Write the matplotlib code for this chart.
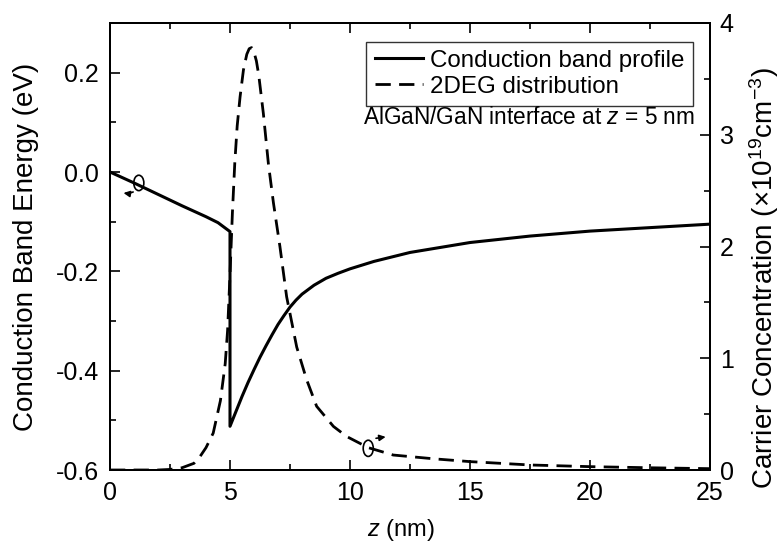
import matplotlib
matplotlib.use("Agg")
import matplotlib.pyplot as plt
from matplotlib.patches import Ellipse, FancyArrowPatch
from matplotlib.ticker import MultipleLocator

plt.rcParams['font.family'] = ['Liberation Sans', 'DejaVu Sans']
plt.rcParams['mathtext.fontset'] = 'custom'
plt.rcParams['mathtext.rm'] = 'Liberation Sans'
plt.rcParams['mathtext.it'] = 'Liberation Sans:italic'
plt.rcParams['axes.unicode_minus'] = False

# Conduction band profile (eV)
z_cb = [0.0, 1.0, 2.0, 3.0, 4.0, 4.5, 5.0, 5.0, 5.25, 5.5, 5.75, 6.0, 6.25,
        6.5, 6.75, 7.0, 7.25, 7.5, 7.75, 8.0, 8.5, 9.0, 9.5, 10.0, 11.0, 12.5,
        15.0, 17.5, 20.0, 22.5, 25.0]
e_cb = [0.0, -0.022, -0.045, -0.068, -0.090, -0.102, -0.120, -0.512, -0.482,
        -0.452, -0.424, -0.398, -0.373, -0.350, -0.328, -0.307, -0.289,
        -0.272, -0.258, -0.246, -0.228, -0.214, -0.204, -0.195, -0.180,
        -0.162, -0.142, -0.129, -0.119, -0.112, -0.105]

# 2DEG distribution (1e19 cm^-3)
z_2deg = [0.0, 1.0, 2.0, 2.5, 3.0, 3.5, 3.75, 4.0, 4.3, 4.6, 4.8, 4.9, 5.0, 5.1,
          5.2, 5.3, 5.42, 5.56, 5.7, 5.8, 5.9, 6.0, 6.1, 6.2, 6.39, 6.6, 6.81,
          7.08, 7.36, 7.78, 8.19, 8.61, 9.31, 9.86, 10.76, 11.8, 13.5, 15.0,
          17.5, 20.0, 22.5, 25.0]
n_2deg = [0.0, 0.0, 0.0, 0.005, 0.02, 0.06, 0.12, 0.2, 0.33, 0.62, 0.95, 1.25,
          1.75, 2.3, 2.75, 3.08, 3.34, 3.58, 3.72, 3.77, 3.78, 3.74, 3.66,
          3.53, 3.19, 2.74, 2.39, 2.0, 1.55, 1.10, 0.81, 0.57, 0.39, 0.30,
          0.20, 0.134, 0.10, 0.075, 0.045, 0.03, 0.02, 0.012]

left_ticks = [-0.6, -0.4, -0.2, 0.0, 0.2]
left_ticklabels = ['-0.6', '-0.4', '-0.2', '0.0', '0.2']
right_ticks = [0, 1, 2, 3, 4]
x_ticks = [0, 5, 10, 15, 20, 25]

W, H = 784, 543
fig = plt.figure(figsize=(W / 100, H / 100), dpi=100)
ax = fig.add_axes([110 / W, 73 / H, 600 / W, 447 / H])
ax2 = ax.twinx()

l1, = ax.plot(z_cb, e_cb, color='black', lw=2.2, solid_joinstyle='round',
              label='Conduction band profile')
l2, = ax2.plot(z_2deg, n_2deg, color='black', lw=2.0,
               linestyle=(0, (5.5, 3)), label='2DEG distribution')

ax.set_xlim(0, 25)
ax.set_ylim(-0.6, 0.3)
ax2.set_ylim(0, 4)

ax.set_xticks(x_ticks)
ax.xaxis.set_minor_locator(MultipleLocator(2.5))
ax.set_yticks(left_ticks)
ax.set_yticklabels(left_ticklabels)
ax.yaxis.set_minor_locator(MultipleLocator(0.1))
ax2.set_yticks(right_ticks)
ax2.yaxis.set_minor_locator(MultipleLocator(0.5))

FS = 18
for a in (ax, ax2):
    for s in a.spines.values():
        s.set_linewidth(1.4)
ax.tick_params(axis='both', which='major', direction='in', length=7.5,
               width=1.2, labelsize=FS)
ax.tick_params(axis='y', which='major', pad=8)
ax.tick_params(axis='x', which='major', pad=8)
ax.tick_params(axis='both', which='minor', direction='in', length=4,
               width=1.2)
ax.tick_params(axis='x', which='both', top=True)
ax2.tick_params(axis='y', which='major', direction='in', length=7.5,
                width=1.2, labelsize=FS, pad=7)
ax2.tick_params(axis='y', which='minor', direction='in', length=4, width=1.2)

ax.set_xlabel('$z$ (nm)', fontsize=17)
ax.xaxis.set_label_coords(0.485, -0.105)
ax.set_ylabel('Conduction Band Energy (eV)', fontsize=20, labelpad=12)
ax2.set_ylabel('Carrier Concentration (\u00d710$^{19}$cm$^{-3}$)',
               fontsize=20, labelpad=10)
ax2.yaxis.label.set_y(0.43)

leg = ax2.legend(handles=[l1, l2], loc='upper right',
                 bbox_to_anchor=(693 / W, 1 - 41.5 / H),
                 bbox_transform=fig.transFigure, fontsize=17.4,
                 frameon=True, fancybox=False, edgecolor='black',
                 handlelength=2.0, handletextpad=0.3, labelspacing=0.15,
                 borderpad=0.35, borderaxespad=0)
leg.get_frame().set_linewidth(1.0)

fig.text(695 / W, 1 - 118 / H, 'AlGaN/GaN interface at $z$ = 5 nm',
         ha='right', va='center', fontsize=16.3)

# axis indicator markers
e1 = Ellipse((1.2, -0.022), width=0.42, height=0.031, fill=False,
             edgecolor='black', lw=1.2)
ax.add_patch(e1)
a1 = FancyArrowPatch((1.07, -0.038), (0.45, -0.041), arrowstyle='-|>',
                     mutation_scale=9, color='black', lw=1.2,
                     connectionstyle='arc3,rad=-0.2')
ax.add_patch(a1)

e2 = Ellipse((10.76, 0.194), width=0.42, height=0.145, angle=0, fill=False,
             edgecolor='black', lw=1.2)
ax2.add_patch(e2)
a2 = FancyArrowPatch((10.97, 0.28), (11.6, 0.30), arrowstyle='-|>',
                     mutation_scale=9, color='black', lw=1.2)
ax2.add_patch(a2)

fig.savefig('out.png', dpi=100)
